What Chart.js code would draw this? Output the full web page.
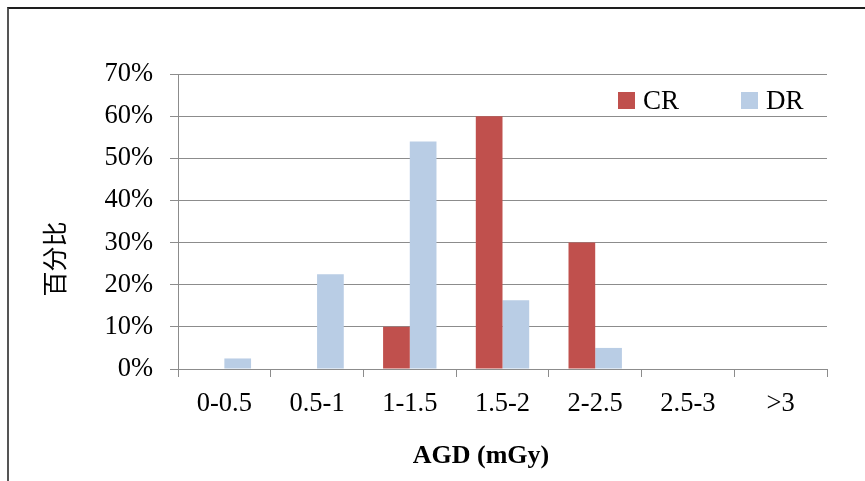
<!DOCTYPE html>
<html>
<head>
<meta charset="utf-8">
<script src="https://cdn.jsdelivr.net/npm/chart.js@4"></script>
<style>
  html, body { margin: 0; padding: 0; background: #fff; }
  #wrap { position: relative; width: 865px; height: 481px; overflow: hidden; }
  #frame { position: absolute; left: 7px; top: 7px; width: 900px; height: 500px;
           border-top: 2px solid #1e1e1e; border-left: 2px solid #555; }
  canvas { position: absolute; left: 0; top: 0; }
</style>
</head>
<body>
<div id="wrap">
  <div id="frame"></div>
  <canvas id="chart" width="865" height="481"></canvas>
</div>
<script>
// AGD dose bins and share of exams per system (%)
const categories = ['0-0.5', '0.5-1', '1-1.5', '1.5-2', '2-2.5', '2.5-3', '>3'];
const crValues = [0, 0, 10, 60, 30, 0, 0];
const drValues = [2.5, 22.5, 54, 16.3, 5, 0, 0];
const yTicks = [0, 10, 20, 30, 40, 50, 60, 70];
const xTitle = 'AGD (mGy)';
const yTitle = '百分比';

const FONT = "'Liberation Serif', 'Times New Roman', serif";
const GRID = '#8c8c8c';

// Legend inside the plot area (top right) and the two axis titles
const annotations = {
  id: 'annotations',
  afterDraw(chart) {
    const ctx = chart.ctx;
    const spots = [618, 741];
    ctx.save();
    ctx.font = '27px ' + FONT;
    ctx.textBaseline = 'middle';
    ctx.textAlign = 'left';
    chart.data.datasets.forEach((ds, i) => {
      const x = spots[i];
      ctx.fillStyle = ds.backgroundColor;
      ctx.fillRect(x, 92, 17, 17);
      ctx.fillStyle = '#000';
      ctx.fillText(ds.label, x + 25, 102);
    });

    ctx.fillStyle = '#000';
    ctx.textAlign = 'center';
    ctx.font = 'bold 26px ' + FONT;
    ctx.fillText(xTitle, 481, 456);

    ctx.translate(54, 259);
    ctx.rotate(-Math.PI / 2);
    ctx.font = "25px 'Noto Sans CJK SC', sans-serif";
    ctx.fillText(yTitle, 0, 0);
    ctx.restore();
  }
};

new Chart(document.getElementById('chart'), {
  type: 'bar',
  data: {
    labels: categories,
    datasets: [
      { label: 'CR', data: crValues, backgroundColor: '#C0504D' },
      { label: 'DR', data: drValues, backgroundColor: '#B9CDE5' }
    ]
  },
  options: {
    responsive: false,
    animation: false,
    devicePixelRatio: 1,
    layout: { padding: { top: 74, right: 38, left: 0, bottom: 0 } },
    datasets: { bar: { barPercentage: 1, categoryPercentage: 0.576 } },
    plugins: { legend: { display: false }, tooltip: { enabled: false } },
    scales: {
      x: {
        grid: { drawOnChartArea: false, color: GRID, tickLength: 8, offset: true },
        border: { color: GRID },
        ticks: { color: '#000', font: { family: FONT, size: 26.5 }, padding: 11, maxRotation: 0 },
        afterFit(scale) { scale.height = 112; }
      },
      y: {
        min: 0, max: 70,
        afterBuildTicks(scale) { scale.ticks = yTicks.map(v => ({ value: v })); },
        grid: { color: GRID, tickLength: 8 },
        border: { color: GRID },
        ticks: { color: '#000', font: { family: FONT, size: 26.5 }, padding: 17,
                 callback: v => v + '%' },
        afterFit(scale) { scale.width = 178; }
      }
    }
  },
  plugins: [annotations]
});
</script>
</body>
</html>
